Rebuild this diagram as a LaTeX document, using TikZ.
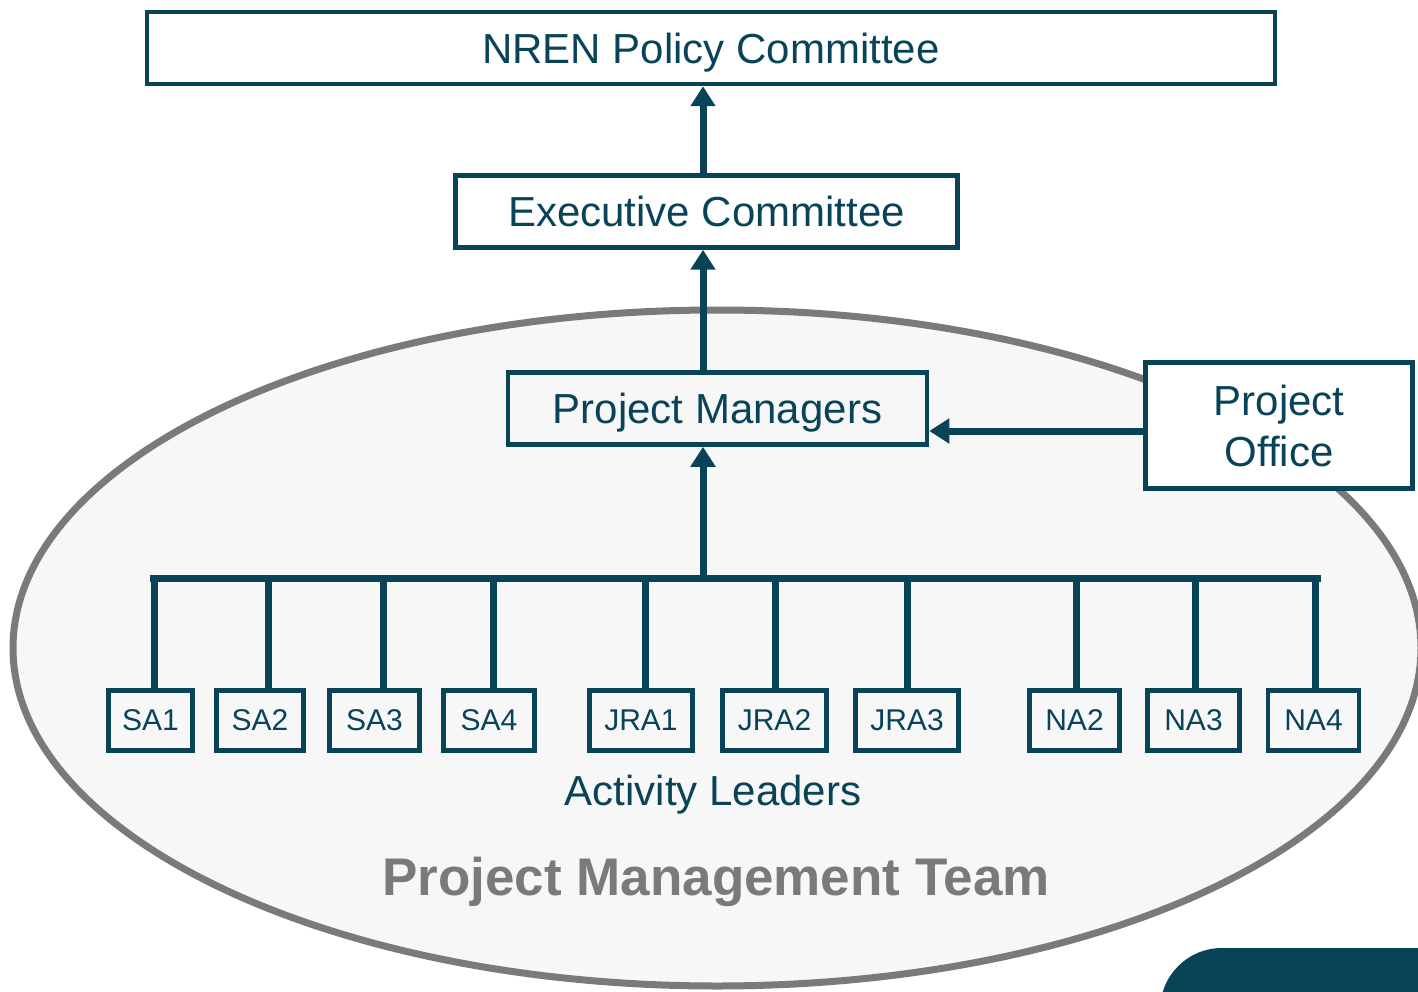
\documentclass[tikz,border=0pt]{standalone}
\usepackage{fontspec}
\setmainfont{Liberation Sans}
\usetikzlibrary{arrows.meta}
\definecolor{geant}{RGB}{8,67,88}
\definecolor{ellfill}{RGB}{247,247,247}
\definecolor{ellline}{RGB}{122,122,122}
\tikzset{
  bigbox/.style={draw=geant, line width=4.5pt, text=geant, font=\fontsize{42}{50}\selectfont, inner sep=0pt, text depth=0pt},
  smallbox/.style={draw=geant, line width=4.5pt, text=geant, font=\fontsize{30}{36}\selectfont, inner sep=0pt, minimum height=60pt, text depth=0pt},
  conn/.style={draw=geant, line width=7pt},
  arr/.style={conn, -{Triangle[width=24pt,length=20pt]}},
}
\begin{document}
\begin{tikzpicture}[x=1pt,y=-1pt]
\clip (0,0) rectangle (1418,992);
\useasboundingbox (0,0) rectangle (1418,992);
% team ellipse
\draw[fill=ellfill, draw=ellline, line width=7pt] (717,648) ellipse [x radius=704, y radius=338];
% corner decoration
\fill[geant, rounded corners=62pt] (1160,1120) -- (1160,948) -- (1560,948) -- (1560,1120) -- cycle;
% boxes
\node[bigbox, minimum width=1128pt, minimum height=72pt] (nren) at (711,48) {NREN Policy Committee};
\node[bigbox, minimum width=502pt, minimum height=72pt] (exec) at (706.5,211.5) {Executive Committee};
\node[bigbox, minimum width=419pt, minimum height=72pt] (pm) at (717.5,408.5) {Project Managers};
\node[bigbox, fill=white, minimum width=267pt, minimum height=126pt, align=center, font=\fontsize{42}{51}\selectfont] (po) at (1279,425.5) {Project\\Office};
\node[smallbox, minimum width=84pt] (sa1) at (150.5,720.5) {SA1};
\node[smallbox, minimum width=87pt] (sa2) at (260,720.5) {SA2};
\node[smallbox, minimum width=90pt] (sa3) at (374.5,720.5) {SA3};
\node[smallbox, minimum width=91pt] (sa4) at (489,720.5) {SA4};
\node[smallbox, minimum width=103pt] (jra1) at (641,720.5) {JRA1};
\node[smallbox, minimum width=104pt] (jra2) at (774.5,720.5) {JRA2};
\node[smallbox, minimum width=103pt] (jra3) at (907,720.5) {JRA3};
\node[smallbox, minimum width=90pt] (na2) at (1074.5,720.5) {NA2};
\node[smallbox, minimum width=92pt] (na3) at (1193.5,720.5) {NA3};
\node[smallbox, minimum width=91pt] (na4) at (1313.5,720.5) {NA4};
% labels
\node[text=geant, font=\fontsize{42}{50}\selectfont, inner sep=0pt, text depth=0pt] (al) at (713,790) {Activity Leaders};
\node[text=ellline, font=\fontsize{53}{60}\selectfont\bfseries, inner sep=0pt, text depth=0pt] (pmt) at (716,876) {Project Management Team};
% bus
\coordinate (busL) at (150,578);
\coordinate (busR) at (1321,578);
\coordinate (busM) at (703,578);
\draw[conn] (busL) -- (busR);
\foreach \n/\x in {sa1/154,sa2/268,sa3/383,sa4/493,jra1/645,jra2/775,jra3/907,na2/1076,na3/1195,na4/1315}{
  \draw[conn] (\x,574.5) -- (\n.north -| \x,0);
}
% arrows
\draw[arr] (busM) -- (pm.south -| busM);
\draw[arr] (pm.north -| busM) -- (exec.south -| busM);
\draw[arr] (exec.north -| busM) -- (nren.south -| busM);
\draw[arr] (po.west |- 0,431) -- (pm.east |- 0,431);
\end{tikzpicture}
\end{document}
